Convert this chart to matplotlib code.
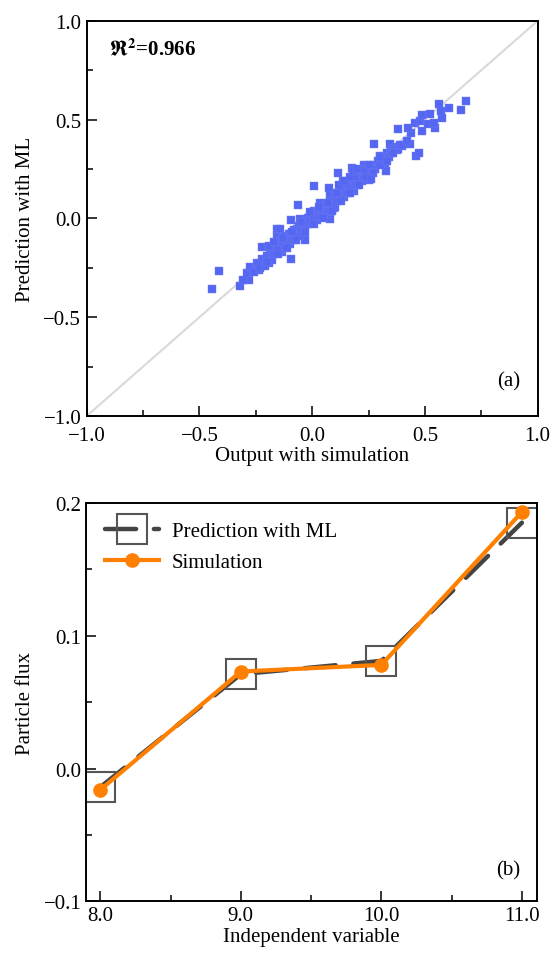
import numpy as np
import matplotlib
matplotlib.use('Agg')
import matplotlib.pyplot as plt

plt.rcParams['font.family'] = ['Liberation Serif', 'DejaVu Serif']
plt.rcParams['mathtext.fontset'] = 'stix'

# panel (a): simulation output vs ML prediction
sim_out = [-0.443, -0.412, -0.321, -0.281, -0.305, -0.290, -0.276, -0.250, -0.234, -0.246,
           -0.224, -0.224, -0.190, -0.187, -0.172, -0.157, -0.142, -0.157, -0.135, -0.093,
           -0.142, -0.120, -0.105, -0.093, -0.061, -0.083, -0.068, -0.053, -0.031, -0.046,
           -0.024, -0.009, 0.006, 0.006, 0.021, 0.036, 0.050, 0.080, 0.095, 0.073,
           0.080, 0.110, 0.114, 0.139, 0.154, 0.176, 0.191, 0.184, 0.206, 0.228,
           0.250, 0.273, 0.280, 0.295, 0.302, 0.329, 0.324, 0.347, 0.354, 0.376,
           0.399, 0.381, 0.433, 0.440, 0.424, 0.458, 0.462, 0.476, 0.487, 0.480,
           0.487, 0.524, 0.516, 0.547, 0.539, 0.561, 0.576, 0.572, 0.609, 0.662,
           0.683,
           -0.26, -0.24, -0.23, -0.22, -0.21, -0.20, -0.19, -0.18, -0.18, -0.17,
           -0.16, -0.16, -0.15, -0.14, -0.14, -0.13, -0.12, -0.12, -0.11, -0.10,
           -0.10, -0.09, -0.08, -0.08, -0.07, -0.06, -0.06, -0.05, -0.04, -0.04,
           -0.03, -0.02, -0.02, -0.01, 0.00, 0.00, 0.01, 0.02, 0.02, 0.03,
           0.04, 0.04, 0.05, 0.06, 0.06, 0.07, 0.08, 0.08, 0.09, 0.10,
           0.10, 0.11, 0.12, 0.12, 0.13, 0.14, 0.14, 0.15, 0.16, 0.16,
           0.17, 0.18, 0.18, 0.19, 0.20, 0.20, 0.21, 0.22, 0.22, 0.23,
           0.24, 0.25, 0.26, 0.27, 0.28, 0.29, 0.30, 0.31, 0.32, 0.33,
           0.34, 0.35, 0.36, 0.37, 0.38, 0.39, 0.40, 0.42,
           -0.20, -0.15, -0.13, -0.11, -0.09, -0.07, -0.05, -0.03, -0.01, 0.01,
           0.03, 0.05, 0.07, 0.09, 0.11, 0.13, 0.15, 0.17, 0.19, 0.21,
           0.23, 0.25, 0.27, 0.30, 0.33, 0.36, -0.19, -0.17, 0.12, 0.14,
           0.17, 0.18, 0.20, 0.24, 0.26]
ml_pred = [-0.356, -0.265, -0.343, -0.314, -0.314, -0.275, -0.246, -0.258, -0.262, -0.224,
           -0.143, -0.208, -0.224, -0.182, -0.149, -0.056, -0.056, -0.093, -0.169, -0.208,
           -0.123, -0.106, -0.081, -0.008, 0.068, -0.073, -0.056, -0.005, -0.110, -0.039,
           -0.022, 0.012, 0.037, 0.164, 0.029, 0.079, 0.054, -0.005, 0.054, 0.155,
           0.113, 0.096, 0.228, 0.189, 0.164, 0.257, 0.197, 0.138, 0.214, 0.273,
           0.197, 0.375, 0.248, 0.282, 0.316, 0.240, 0.282, 0.375, 0.332, 0.349,
           0.366, 0.451, 0.378, 0.434, 0.459, 0.484, 0.316, 0.329, 0.442, 0.493,
           0.522, 0.527, 0.476, 0.459, 0.484, 0.577, 0.510, 0.543, 0.557, 0.549,
           0.594,
           -0.27, -0.23, -0.25, -0.21, -0.24, -0.19, -0.20, -0.16, -0.21, -0.18,
           -0.13, -0.17, -0.15, -0.11, -0.16, -0.12, -0.14, -0.09, -0.12, -0.08,
           -0.13, -0.10, -0.06, -0.11, -0.08, -0.04, -0.09, -0.06, -0.02, -0.05,
           -0.04, 0.00, -0.03, -0.01, 0.02, -0.02, 0.00, 0.03, -0.01, 0.02,
           0.05, 0.01, 0.03, 0.07, 0.02, 0.05, 0.09, 0.04, 0.07, 0.11,
           0.06, 0.09, 0.13, 0.10, 0.12, 0.16, 0.11, 0.14, 0.18, 0.13,
           0.16, 0.20, 0.15, 0.17, 0.22, 0.17, 0.20, 0.23, 0.19, 0.21,
           0.25, 0.22, 0.24, 0.27, 0.25, 0.29, 0.27, 0.30, 0.31, 0.33,
           0.31, 0.34, 0.35, 0.36, 0.35, 0.37, 0.37, 0.39,
           -0.22, -0.18, -0.10, -0.15, -0.07, -0.11, -0.02, -0.07, 0.03, -0.03,
           0.06, 0.00, 0.08, 0.04, 0.13, 0.09, 0.18, 0.13, 0.21, 0.17,
           0.24, 0.27, 0.23, 0.31, 0.29, 0.33, -0.14, -0.12, 0.17, 0.19,
           0.21, 0.24, 0.25, 0.21, 0.20]

# panel (b): particle flux
indep = [8.0, 9.0, 10.0, 11.0]
flux_ml = [-0.014, 0.071, 0.081, 0.185]
flux_sim = [-0.016, 0.073, 0.078, 0.193]

fig = plt.figure(figsize=(5.53, 9.54), dpi=100)
ax1 = fig.add_axes([0.157, 0.563, 0.815, 0.414])
ax2 = fig.add_axes([0.156, 0.054, 0.815, 0.418])

fs = 15

ax1.plot([-1, 1], [-1, 1], color='#d9d9d9', lw=1.5, zorder=1)
ax1.scatter(sim_out, ml_pred, marker='s', s=30, color='#5566f2', edgecolors='#7080f5',
            linewidths=0.3, zorder=2)
ax1.set_xlim(-1, 1)
ax1.set_ylim(-1, 1)
ax1.set_xticks([-1.0, -0.5, 0.0, 0.5, 1.0])
ax1.set_yticks([-1.0, -0.5, 0.0, 0.5, 1.0])
ax1.set_xticks(np.arange(-0.75, 1.0, 0.5), minor=True)
ax1.set_yticks(np.arange(-0.75, 1.0, 0.5), minor=True)
ax1.set_xticklabels(['\u22121.0', '\u22120.5', '0.0', '0.5', '1.0'])
ax1.set_yticklabels(['\u22121.0', '\u22120.5', '0.0', '0.5', '1.0'])
ax1.set_xlabel('Output with simulation', fontsize=fs, labelpad=1)
ax1.set_ylabel('Prediction with ML', fontsize=fs, labelpad=6)
ax1.text(-0.9, 0.865, r'$\mathbf{\Re}^{\mathbf{2}}$=0.966', fontsize=fs, fontweight='bold',
         va='center', ha='left')
ax1.text(0.87, -0.825, '(a)', fontsize=fs, ha='center', va='center')

ax2.plot(indep, flux_ml, color='#444444', lw=3.2, linestyle=(0, (7, 4)),
         dash_capstyle='round', marker='s', markersize=21, markerfacecolor='none',
         markeredgecolor='#555555', markeredgewidth=1.5, label='Prediction with ML', zorder=2)
ax2.plot(indep, flux_sim, color='#ff7f00', lw=3.0, marker='o', markersize=9.5,
         label='Simulation', zorder=3)
ax2.set_xlim(7.9, 11.107)
ax2.set_ylim(-0.1, 0.2)
ax2.set_xticks([8.0, 9.0, 10.0, 11.0])
ax2.set_xticklabels(['8.0', '9.0', '10.0', '11.0'])
ax2.set_xticks([8.5, 9.5, 10.5], minor=True)
ax2.set_yticks([-0.1, 0.0, 0.1, 0.2])
ax2.set_yticklabels(['\u22120.1', '0.0', '0.1', '0.2'])
ax2.set_yticks([-0.05, 0.05, 0.15], minor=True)
ax2.set_xlabel('Independent variable', fontsize=fs, labelpad=1)
ax2.set_ylabel('Particle flux', fontsize=fs, labelpad=6)
ax2.text(10.9, -0.0765, '(b)', fontsize=fs, ha='center', va='center')
ax2.legend(loc='upper left', frameon=False, fontsize=fs, numpoints=1,
           handlelength=2.6, borderaxespad=0.5, labelspacing=0.55, handletextpad=0.6)

for ax in (ax1, ax2):
    for sp in ax.spines.values():
        sp.set_linewidth(1.4)
    ax.tick_params(which='major', direction='in', length=7, width=1.1, labelsize=fs,
                   top=False, right=False)
    ax.tick_params(which='minor', direction='in', length=4, width=1.1, top=False, right=False)
ax1.tick_params(axis='x', which='major', pad=7)
ax1.tick_params(axis='y', which='major', pad=4)

fig.savefig('out.png', dpi=100)
